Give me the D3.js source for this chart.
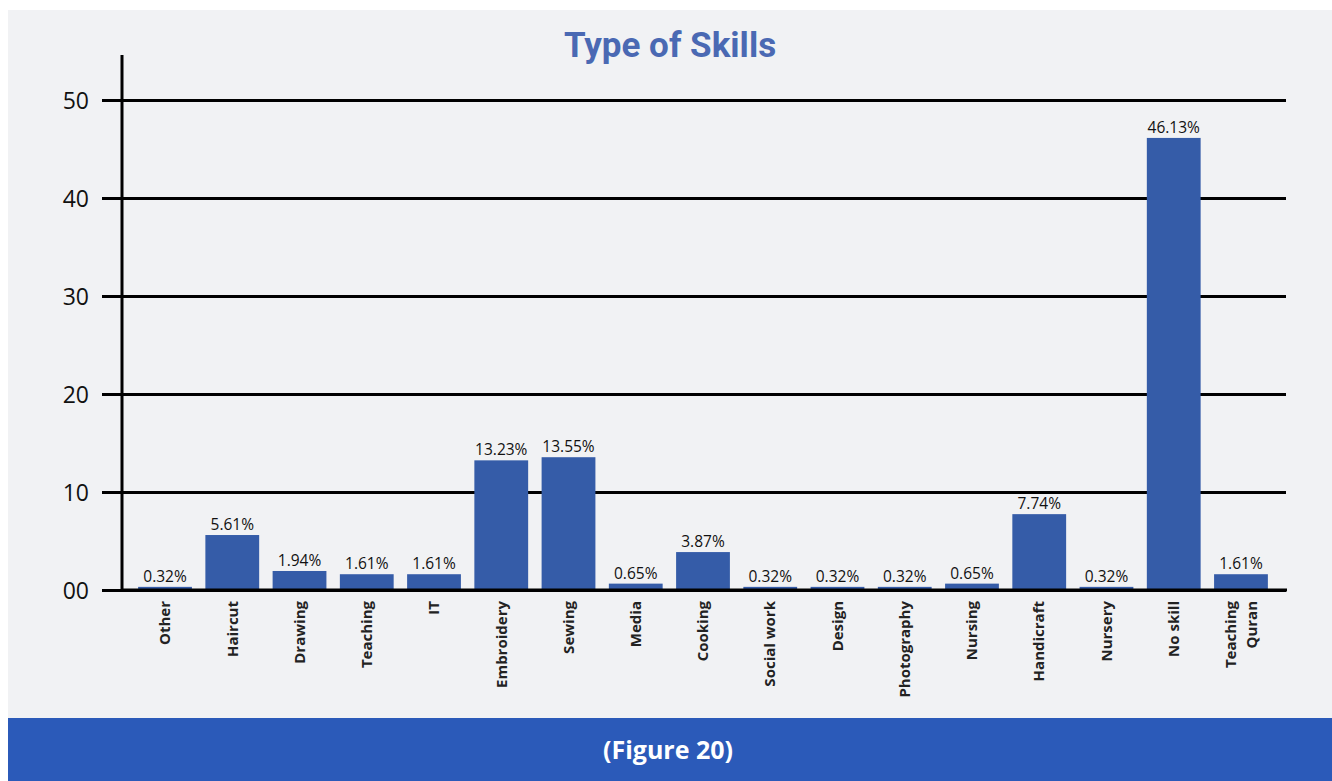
<!DOCTYPE html>
<html>
<head>
<meta charset="utf-8">
<script src="https://cdn.jsdelivr.net/npm/d3@7"></script>
<style>
  html, body { margin: 0; padding: 0; background: #ffffff; }
  svg { display: block; }
</style>
</head>
<body>
<svg id="chart" width="1332" height="781"></svg>
<script>
// Skill categories and their shares (%)
const categories = ["Other", "Haircut", "Drawing", "Teaching", "IT", "Embroidery", "Sewing",
  "Media", "Cooking", "Social work", "Design", "Photography", "Nursing", "Handicraft",
  "Nursery", "No skill", "Teaching\nQuran"];
const values = [0.32, 5.61, 1.94, 1.61, 1.61, 13.23, 13.55, 0.65, 3.87, 0.32, 0.32, 0.32,
  0.65, 7.74, 0.32, 46.13, 1.61];
const yTicks = [0, 10, 20, 30, 40, 50];
const yTickLabels = ["00", "10", "20", "30", "40", "50"];
const title = "Type of Skills";
const caption = "(Figure 20)";

const svg = d3.select("#chart");

// panel and caption band
svg.append("rect").attr("x", 8).attr("y", 10).attr("width", 1324).attr("height", 708)
  .attr("fill", "#f1f2f4");
svg.append("rect").attr("x", 8).attr("y", 718).attr("width", 1324).attr("height", 63)
  .attr("fill", "#2b5ab9");
svg.append("text").attr("x", 668).attr("y", 759).attr("text-anchor", "middle")
  .attr("fill", "#ffffff").attr("font-family", "'Open Sans', sans-serif")
  .attr("font-weight", 700).attr("font-size", 25).text(caption);

svg.append("text").attr("x", 670).attr("y", 57).attr("text-anchor", "middle")
  .attr("fill", "#4a69b3").attr("font-family", "'Liberation Sans Narrow', 'Roboto', sans-serif")
  .attr("font-weight", 700).attr("font-size", 35).text(title);

const y = d3.scaleLinear().domain([0, 50]).range([590, 100]);
const x = d3.scaleBand().domain(categories).range([131.4, 1274.6])
  .paddingInner(0.2).paddingOuter(0.1);

// horizontal gridlines with left tick stubs
const yAxis = d3.axisLeft(y).tickValues(yTicks)
  .tickSize(-(1286 - 122)).tickPadding(0)
  .tickFormat((d, i) => yTickLabels[i]);
const gy = svg.append("g").attr("transform", "translate(122,0)").call(yAxis);
gy.select(".domain").remove();
gy.selectAll(".tick line").attr("stroke", "#000").attr("stroke-width", 3)
  .attr("x1", -20);
gy.selectAll(".tick text").attr("x", -33).attr("dy", "0.35em")
  .attr("font-family", "'Open Sans', sans-serif").attr("font-size", 23)
  .attr("fill", "#111");

// y axis line
svg.append("line").attr("x1", 122).attr("x2", 122).attr("y1", 55).attr("y2", 591.5)
  .attr("stroke", "#000").attr("stroke-width", 3);

// bars
svg.append("g").selectAll("rect").data(values).join("rect")
  .attr("x", (d, i) => x(categories[i]))
  .attr("width", x.bandwidth())
  .attr("y", d => y(d))
  .attr("height", d => y(0) - y(d))
  .attr("fill", "#355ca8");

// value labels
svg.append("g").selectAll("text").data(values).join("text")
  .attr("x", (d, i) => x(categories[i]) + x.bandwidth() / 2)
  .attr("y", d => y(d) - 5)
  .attr("text-anchor", "middle")
  .attr("font-family", "'Open Sans', sans-serif").attr("font-size", 15.5)
  .attr("fill", "#111")
  .text(d => d.toFixed(2) + "%");

// x axis baseline
svg.append("line").attr("x1", 121).attr("x2", 1287).attr("y1", 590).attr("y2", 590)
  .attr("stroke", "#000").attr("stroke-width", 3);

// rotated category labels
const xl = svg.append("g");
categories.forEach(c => {
  const lines = c.split("\n");
  const cx = x(c) + x.bandwidth() / 2;
  const t = xl.append("text")
    .attr("transform", `translate(${cx},601) rotate(-90)`)
    .attr("text-anchor", "end")
    .attr("font-family", "'Open Sans', sans-serif").attr("font-weight", 700)
    .attr("font-size", 15).attr("fill", "#222");
  lines.forEach((ln, i) => {
    t.append("tspan").attr("x", 0)
      .attr("dy", i === 0 ? (lines.length > 1 ? "-0.35em" : "0.35em") : "1.4em")
      .text(ln);
  });
});
</script>
</body>
</html>
